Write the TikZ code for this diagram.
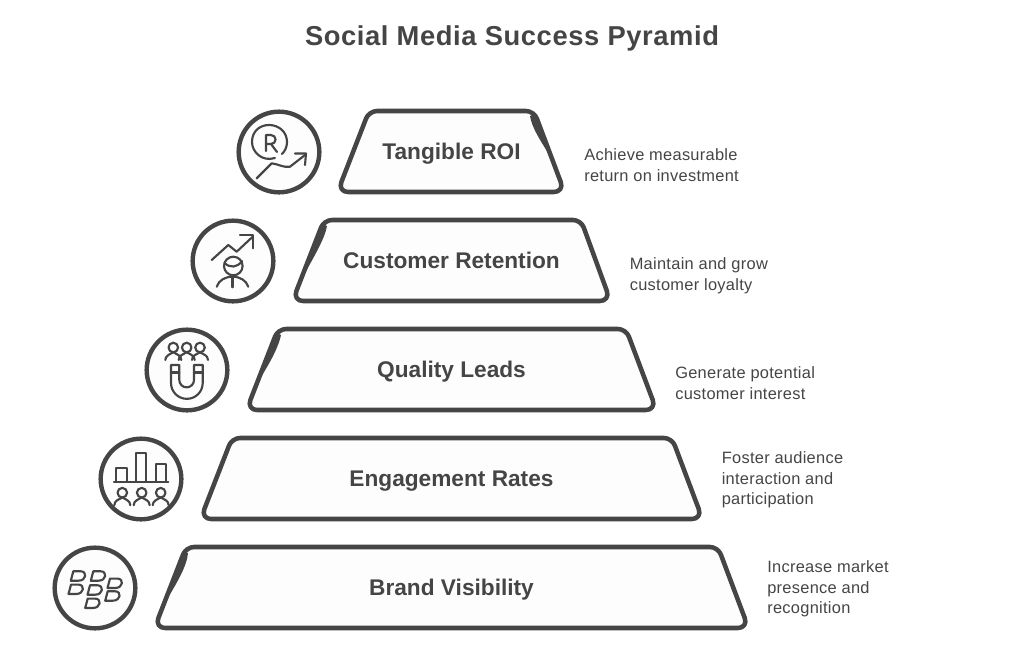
\documentclass[tikz,border=0pt]{standalone}
\usepackage{fontspec}
\setmainfont{Liberation Sans}
\definecolor{ink}{HTML}{454545}
\definecolor{paper}{HTML}{FDFDFD}
\tikzset{
  x=0.75pt,y=-0.75pt,
  titletext/.style={text=ink,font=\fontsize{20.5pt}{24pt}\bfseries\addfontfeature{LetterSpace=2.2}\selectfont,inner sep=0pt,anchor=base},
  bandtext/.style={text=ink,font=\fontsize{17pt}{20pt}\bfseries\selectfont,inner sep=0pt,anchor=base},
  desctext/.style={text=ink,font=\fontsize{12.3pt}{15.4pt}\addfontfeature{LetterSpace=1.8}\selectfont,inner sep=0pt,anchor=north west,align=left,execute at begin node={\rule{0pt}{10pt}}},
  bandline/.style={draw=ink,fill=paper,line width=3.4pt,line join=round},
  sliver/.style={fill=ink,draw=none},
  disc/.style={draw=ink,fill=paper,line width=3.3pt,circle,minimum size=60.5pt,inner sep=0pt},
  glyph/.style={draw=ink,line width=1.6pt,line cap=round,line join=round},
}
\newcommand{\bandshape}[5]{% ytop, xTL, xTR, xBL, xBR
  \draw[bandline] (#2+40,#1) [rounded corners=6pt] -- (#3+1,#1) [rounded corners=8pt] -- (#5+2.5,#1+81) -- (#4-2.5,#1+81) [rounded corners=6pt] -- (#2-1,#1) -- (#2+40,#1);
}
\newcommand{\person}[2]{% head centre
  \draw[glyph] (#1,#2) circle (4.8);
  \draw[glyph] (#1-8,#2+12.5) .. controls (#1-8,#2+8) and (#1-3,#2+6.5) .. (#1,#2+4.8)
               .. controls (#1+3,#2+6.5) and (#1+8,#2+8) .. (#1+8,#2+12.5);
}
\newcommand{\bbkey}[2]{% centre of a slanted D
  \draw[glyph] (#1-5,#2-4.7) -- (#1+2.5,#2-4.7) .. controls (#1+9,#2-4.7) and (#1+8.5,#2+4.7) .. (#1,#2+4.7) -- (#1-7.5,#2+4.7) -- cycle;
}
\begin{document}
\begin{tikzpicture}
\useasboundingbox (0,0) rectangle (1024,657);
\fill[white] (0,0) rectangle (1024,657);

\node[titletext] (title) at (512,45) {Social Media Success Pyramid};

% bands
\bandshape{111}{370}{533}{340}{562}
\bandshape{220}{325}{580}{295}{608}
\bandshape{329}{279}{625}{249}{654}
\bandshape{438}{233}{671}{203}{700}
\bandshape{547}{187}{717}{157}{746}

% hand-drawn thickening of some edges
\fill[sliver] (535,114) -- (530,116) .. controls (532,128) and (540,140) .. (552.5,160) -- cycle;
\fill[sliver] (322.5,224) -- (327,226) .. controls (325,238) and (315,255) .. (300,282) -- cycle;
\fill[sliver] (276.5,333) -- (281,335) .. controls (279,345) and (272,360) .. (259,380) -- cycle;
\fill[sliver] (184,552) -- (188,553) .. controls (187,566) and (177,583) .. (164,604) -- cycle;

% band labels
\node[bandtext] (roi) at (451.5,159.5) {Tangible ROI};
\node[bandtext] (retention) at (451.5,268.5) {Customer Retention};
\node[bandtext] (leads) at (451.5,377.5) {Quality Leads};
\node[bandtext] (engagement) at (451.5,486.5) {Engagement Rates};
\node[bandtext] (brand) at (451.5,595.5) {Brand Visibility};

% descriptions
\node[desctext] (droi) at (584,148.5) {Achieve measurable\\return on investment};
\node[desctext] (dretention) at (629.5,257.5) {Maintain and grow\\customer loyalty};
\node[desctext] (dleads) at (675,366.5) {Generate potential\\customer interest};
\node[desctext] (dengagement) at (721.5,451.5) {Foster audience\\interaction and\\participation};
\node[desctext] (dbrand) at (767,560.5) {Increase market\\presence and\\recognition};

% icon discs
\node[disc] (iroi) at (279,152) {};
\node[disc] (iretention) at (233,261) {};
\node[disc] (ileads) at (187,370) {};
\node[disc] (iengagement) at (141,479) {};
\node[disc] (ibrand) at (95,588) {};

% R and rising line
\draw[glyph] (275,158) .. controls (262,162) and (252,152) .. (252,142) .. controls (252,131) and (260,125) .. (269,125) .. controls (279,125) and (287,132) .. (287,142) .. controls (287,147) and (285,151) .. (282,154);
\draw[glyph] (266,151) -- (266,135) -- (271,135) .. controls (277,135) and (277,144) .. (271,144) -- (266,144) (271,144) -- (277,152);
\draw[glyph] (256.7,178.3) -- (271.7,163.3) .. controls (278,164) and (284,168) .. (290,166.7) -- (305,155);
\draw[glyph] (295,153.5) -- (306,153.5) -- (305,165);

% person and rising arrow
\draw[glyph] (211.7,260) -- (228.3,245) -- (236.7,251.7) -- (252.7,236.7);
\draw[glyph] (240,235) -- (253.3,235) -- (253.3,248.3);
\draw[glyph] (233.3,266) circle (9.3);
\draw[glyph] (224.5,263) .. controls (230,268) and (237,268) .. (242,261);
\draw[glyph] (216.7,286.7) .. controls (219,280) and (225,277) .. (232.5,276.5) .. controls (240,277) and (246,280) .. (248.3,286.7);
\draw[glyph] (232.5,276.5) -- (232.5,287.3);

% people and magnet
\person{173.3}{347.5}
\person{186.7}{347.5}
\person{200}{347.5}
\draw[glyph] (171,365) -- (179.3,365) -- (179.3,380) arc[start angle=180,end angle=0,radius=7.35] -- (194,365) -- (202.7,365) -- (202.7,383) arc[start angle=0,end angle=180,radius=15.85] -- cycle;
\draw[glyph] (171,372.5) -- (179.3,372.5) (194,372.5) -- (202.7,372.5);

% chart and audience
\draw[glyph] (116,481.7) -- (116,468.3) -- (127.3,468.3) -- (127.3,481.7);
\draw[glyph] (136,481.7) -- (136,452.7) -- (146,452.7) -- (146,481.7);
\draw[glyph] (155.7,481.7) -- (155.7,464) -- (165.7,464) -- (165.7,481.7);
\draw[glyph] (114,481.7) -- (168.3,481.7);
\person{122.3}{492.7}
\person{141.7}{492.7}
\person{160.7}{492.7}

% keys
\bbkey{78.3}{576}
\bbkey{98.3}{576}
\bbkey{76}{589.3}
\bbkey{95}{590}
\bbkey{115}{583.3}
\bbkey{112.7}{596}
\bbkey{92.7}{603.3}
\end{tikzpicture}
\end{document}
